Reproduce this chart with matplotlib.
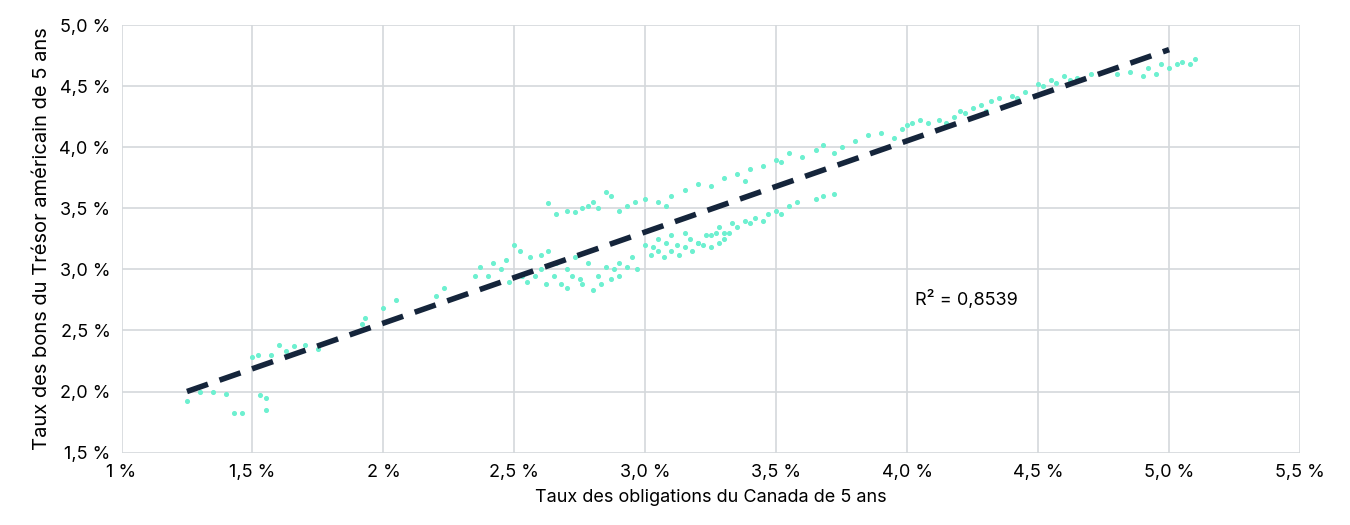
import matplotlib.pyplot as plt
from matplotlib.ticker import FuncFormatter

# Canada 5y (x) vs US 5y (y)
canada = [1.25, 1.30, 1.35, 1.40, 1.43, 1.46, 1.50, 1.52, 1.53, 1.55, 1.55, 1.57, 1.60, 1.63, 1.66, 1.70, 1.75,
          1.92, 1.93, 2.00, 2.05, 2.20, 2.23, 2.35, 2.37, 2.40, 2.42, 2.45, 2.47, 2.48, 2.50, 2.52, 2.53, 2.55,
          2.56, 2.58, 2.60, 2.60, 2.62, 2.63, 2.65, 2.66, 2.68, 2.70, 2.70, 2.72, 2.73, 2.75, 2.76, 2.78, 2.80,
          2.82, 2.83, 2.85, 2.87, 2.88, 2.90,
          2.63, 2.66, 2.70, 2.73, 2.76, 2.78, 2.80, 2.82, 2.85, 2.87, 2.90, 2.93, 2.96, 3.00, 3.05, 3.08,
          2.90, 2.93, 2.95, 2.97, 3.00, 3.02, 3.03, 3.05, 3.07, 3.08, 3.10, 3.12, 3.13, 3.15, 3.17, 3.18, 3.20,
          3.22, 3.23, 3.25, 3.27, 3.28, 3.30, 3.32,
          3.05, 3.10, 3.15, 3.20, 3.25, 3.28, 3.30, 3.33, 3.35, 3.38, 3.40, 3.42, 3.45, 3.47, 3.50, 3.52, 3.55,
          3.58, 3.65, 3.68, 3.72,
          3.10, 3.15, 3.20, 3.25, 3.30, 3.35, 3.38, 3.40, 3.45, 3.50, 3.52, 3.55, 3.60, 3.65, 3.68, 3.72,
          3.75, 3.80, 3.85, 3.90, 3.95, 3.98, 4.00, 4.02, 4.05, 4.08,
          4.12, 4.15, 4.18, 4.20, 4.22, 4.25, 4.28, 4.30, 4.32, 4.35, 4.38, 4.40, 4.42, 4.45,
          4.50, 4.52, 4.55, 4.57, 4.60, 4.62, 4.65, 4.70,
          4.80, 4.85, 4.90, 4.92, 4.95, 4.97, 5.00, 5.03, 5.05, 5.08, 5.10]
us = [1.92, 2.00, 2.00, 1.98, 1.82, 1.82, 2.28, 2.30, 1.97, 1.95, 1.85, 2.30, 2.38, 2.33, 2.37, 2.38, 2.35,
      2.55, 2.60, 2.68, 2.75, 2.78, 2.85, 2.95, 3.02, 2.95, 3.05, 3.00, 3.08, 2.90, 3.20, 3.15, 2.95, 2.90,
      3.10, 2.95, 3.00, 3.12, 2.88, 3.15, 2.95, 3.05, 2.88, 2.85, 3.00, 2.95, 3.10, 2.92, 2.88, 3.05, 2.83,
      2.95, 2.88, 3.02, 2.92, 3.00, 2.95,
      3.54, 3.45, 3.48, 3.47, 3.50, 3.52, 3.55, 3.50, 3.63, 3.60, 3.48, 3.52, 3.55, 3.58, 3.55, 3.52,
      3.05, 3.02, 3.10, 3.00, 3.20, 3.12, 3.18, 3.15, 3.10, 3.22, 3.15, 3.20, 3.12, 3.18, 3.25, 3.15, 3.22,
      3.20, 3.28, 3.18, 3.30, 3.22, 3.25, 3.30,
      3.25, 3.28, 3.30, 3.22, 3.28, 3.35, 3.30, 3.38, 3.35, 3.40, 3.38, 3.42, 3.40, 3.45, 3.48, 3.45, 3.52,
      3.55, 3.58, 3.60, 3.62,
      3.60, 3.65, 3.70, 3.68, 3.75, 3.78, 3.72, 3.82, 3.85, 3.90, 3.88, 3.95, 3.92, 3.98, 4.02, 3.95,
      4.00, 4.05, 4.10, 4.12, 4.08, 4.15, 4.18, 4.20, 4.22, 4.20,
      4.22, 4.20, 4.25, 4.30, 4.28, 4.32, 4.35, 4.30, 4.38, 4.40, 4.35, 4.42, 4.40, 4.45,
      4.52, 4.50, 4.55, 4.53, 4.58, 4.55, 4.57, 4.60,
      4.60, 4.62, 4.58, 4.65, 4.60, 4.68, 4.65, 4.68, 4.70, 4.68, 4.72]

trend_x = [1.25, 5.0]
trend_y = [2.0, 4.8]
r2_text = "R² = 0,8539"

plt.rcParams['font.family'] = 'Inter'
fig, ax = plt.subplots(figsize=(13.5, 5.25), dpi=100)
fig.subplots_adjust(left=0.09, right=0.963, top=0.952, bottom=0.138)

ax.scatter(canada, us, s=7, color='#6df0d0', zorder=3)
ax.plot(trend_x, trend_y, color='#15253b', lw=4, dashes=(4, 2.2), zorder=4)
ax.text(4.03, 2.75, r2_text, fontsize=13, ha='left', va='center')

ax.set_xlim(1, 5.5)
ax.set_ylim(1.5, 5.0)
ax.set_xticks([1, 1.5, 2, 2.5, 3, 3.5, 4, 4.5, 5, 5.5])
ax.set_yticks([1.5, 2, 2.5, 3, 3.5, 4, 4.5, 5])
xlabels = ['1 %', '1,5 %', '2 %', '2,5 %', '3,0 %', '3,5 %', '4,0 %', '4,5 %', '5,0 %', '5,5 %']
ax.set_xticklabels(xlabels)
ax.yaxis.set_major_formatter(FuncFormatter(lambda v, p: f"{v:.1f} %".replace('.', ',')))
ax.tick_params(labelsize=13, length=0, pad=8)
ax.grid(True, color='#d4d8dc', lw=1.2)
ax.set_axisbelow(True)
for s in ax.spines.values():
    s.set_visible(False)
ax.set_xlabel('Taux des obligations du Canada de 5 ans', fontsize=13, labelpad=6)
ax.set_ylabel('Taux des bons du Trésor américain de 5 ans', fontsize=14.5, labelpad=6)

fig.savefig('out.png')
